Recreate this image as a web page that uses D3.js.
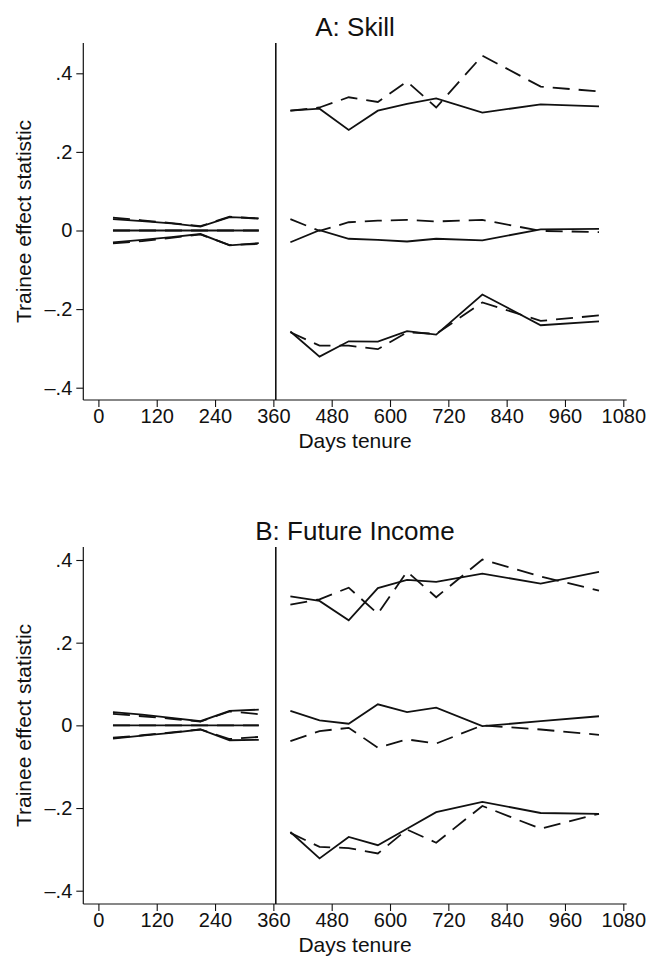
<!DOCTYPE html>
<html>
<head>
<meta charset="utf-8">
<script src="https://cdn.jsdelivr.net/npm/d3@7"></script>
<style>
  html, body { margin: 0; padding: 0; background: #fff; }
  svg { display: block; font-family: "Liberation Sans", Arial, Helvetica, sans-serif; }
</style>
</head>
<body>
<svg id="chart" width="649" height="962"></svg>
<script>
// Days of tenure at which each statistic is evaluated
const daysPre  = [30, 90, 150, 210, 270, 330];
const daysPost = [395, 455, 515, 575, 635, 695, 790, 910, 1030];
const xTicks = [0, 120, 240, 360, 480, 600, 720, 840, 960, 1080];
const yTicks = [-0.4, -0.2, 0, 0.2, 0.4];
const cutoffDay = 365;

// Panel A: Skill — first year (pre) and later (post), solid and dashed series
const skillPreUpper      = [0.029, 0.024, 0.018, 0.010, 0.034, 0.031];
const skillPreUpperAlt   = [0.033, 0.026, 0.019, 0.011, 0.035, 0.030];
const skillPreMid        = [0, 0, 0, 0, 0, 0];
const skillPreMidAlt     = [0, 0, 0, 0, 0, 0];
const skillPreLower      = [-0.030, -0.024, -0.017, -0.009, -0.038, -0.032];
const skillPreLowerAlt   = [-0.033, -0.027, -0.019, -0.010, -0.037, -0.034];

const skillPostUpper     = [0.305, 0.310, 0.256, 0.305, 0.322, 0.336, 0.300, 0.321, 0.316];
const skillPostUpperAlt  = [0.305, 0.313, 0.339, 0.327, 0.379, 0.313, 0.445, 0.366, 0.354];
const skillPostMid       = [-0.030, 0.001, -0.021, -0.024, -0.028, -0.021, -0.025, 0.003, 0.004];
const skillPostMidAlt    = [0.029, -0.001, 0.021, 0.025, 0.027, 0.023, 0.027, -0.001, -0.004];
const skillPostLower     = [-0.257, -0.321, -0.282, -0.283, -0.256, -0.265, -0.163, -0.241, -0.231];
const skillPostLowerAlt  = [-0.259, -0.293, -0.293, -0.302, -0.259, -0.263, -0.183, -0.230, -0.216];

// Panel B: Future Income
const incomePreUpper     = [0.032, 0.026, 0.018, 0.010, 0.035, 0.038];
const incomePreUpperAlt  = [0.028, 0.022, 0.016, 0.009, 0.034, 0.027];
const incomePreMid       = [0, 0, 0, 0, 0, 0];
const incomePreMidAlt    = [0, 0, 0, 0, 0, 0];
const incomePreLower     = [-0.032, -0.025, -0.018, -0.010, -0.036, -0.035];
const incomePreLowerAlt  = [-0.030, -0.024, -0.017, -0.010, -0.033, -0.028];

const incomePostUpper    = [0.312, 0.301, 0.254, 0.332, 0.352, 0.347, 0.367, 0.343, 0.371];
const incomePostUpperAlt = [0.292, 0.305, 0.333, 0.270, 0.372, 0.310, 0.401, 0.360, 0.326];
const incomePostMid      = [0.035, 0.012, 0.004, 0.051, 0.032, 0.043, -0.002, 0.010, 0.022];
const incomePostMidAlt   = [-0.038, -0.014, -0.006, -0.054, -0.034, -0.044, 0.000, -0.010, -0.023];
const incomePostLower    = [-0.258, -0.322, -0.270, -0.290, -0.250, -0.210, -0.185, -0.212, -0.214];
const incomePostLowerAlt = [-0.260, -0.294, -0.297, -0.310, -0.252, -0.284, -0.195, -0.250, -0.214];

const panels = [
  {
    title: "A: Skill", offsetY: 0, yRange: [387.7, 73.3],
    pre:  [[skillPreUpper, false], [skillPreUpperAlt, true], [skillPreMid, false], [skillPreMidAlt, true], [skillPreLower, false], [skillPreLowerAlt, true]],
    post: [[skillPostUpper, false], [skillPostUpperAlt, true], [skillPostMid, false], [skillPostMidAlt, true], [skillPostLower, false], [skillPostLowerAlt, true]]
  },
  {
    title: "B: Future Income", offsetY: 504, yRange: [386.7, 56],
    pre:  [[incomePreUpper, false], [incomePreUpperAlt, true], [incomePreMid, false], [incomePreMidAlt, true], [incomePreLower, false], [incomePreLowerAlt, true]],
    post: [[incomePostUpper, false], [incomePostUpperAlt, true], [incomePostMid, false], [incomePostMidAlt, true], [incomePostLower, false], [incomePostLowerAlt, true]]
  }
];

const svg = d3.select("#chart");
svg.append("rect").attr("width", 649).attr("height", 962).attr("fill", "#fff");

const plot = { left: 83.3, right: 626.7, top: 43, bottom: 400 };
const x = d3.scaleLinear().domain([0, 1080]).range([98.4, 623.3]);
const ink = "#111";
const fmtY = v => v === 0 ? "0" : (v < 0 ? "\u2013" : "") + String(Math.abs(v)).replace(/^0/, "");

panels.forEach(p => {
  const g = svg.append("g").attr("transform", `translate(0,${p.offsetY})`);
  const y = d3.scaleLinear().domain([-0.4, 0.4]).range(p.yRange);

  // Title
  g.append("text")
    .attr("x", (plot.left + plot.right) / 2).attr("y", 36)
    .attr("text-anchor", "middle").attr("font-size", 26).attr("fill", ink)
    .text(p.title);

  // Y axis
  const yAxis = d3.axisLeft(y).tickValues(yTicks).tickFormat(fmtY).tickSize(7).tickPadding(4);
  const gy = g.append("g").attr("transform", `translate(${plot.left},0)`).call(yAxis);
  gy.select(".domain").remove();
  gy.selectAll(".tick line").attr("stroke", ink).attr("stroke-width", 1.1);
  gy.selectAll(".tick text").attr("font-size", 20).attr("fill", ink).attr("font-family", null);

  // X axis
  const xAxis = d3.axisBottom(x).tickValues(xTicks).tickFormat(d3.format("d")).tickSize(7).tickPadding(2);
  const gx = g.append("g").attr("transform", `translate(0,${plot.bottom})`).call(xAxis);
  gx.select(".domain").remove();
  gx.selectAll(".tick line").attr("stroke", ink).attr("stroke-width", 1.1);
  gx.selectAll(".tick text").attr("font-size", 20).attr("fill", ink).attr("font-family", null);

  // Axis lines
  g.append("line").attr("x1", plot.left).attr("x2", plot.left)
    .attr("y1", plot.top).attr("y2", plot.bottom).attr("stroke", ink).attr("stroke-width", 1.2);
  g.append("line").attr("x1", plot.left).attr("x2", plot.right)
    .attr("y1", plot.bottom).attr("y2", plot.bottom).attr("stroke", ink).attr("stroke-width", 1.2);

  // Axis titles
  g.append("text")
    .attr("x", (plot.left + plot.right) / 2).attr("y", 448)
    .attr("text-anchor", "middle").attr("font-size", 21).attr("fill", ink)
    .text("Days tenure");
  g.append("text")
    .attr("transform", `translate(23,${(plot.top + plot.bottom) / 2}) rotate(-90)`)
    .attr("text-anchor", "middle").attr("dominant-baseline", "central")
    .attr("font-size", 21).attr("fill", ink)
    .text("Trainee effect statistic");

  // Cutoff line at one year of tenure
  g.append("line").attr("x1", x(cutoffDay)).attr("x2", x(cutoffDay))
    .attr("y1", plot.top).attr("y2", plot.bottom).attr("stroke", ink).attr("stroke-width", 1.6);

  // Series
  const drawSet = (days, set) => {
    set.forEach(([vals, dashed]) => {
      const line = d3.line().x((d, i) => x(days[i])).y(d => y(d));
      g.append("path")
        .attr("d", line(vals))
        .attr("fill", "none").attr("stroke", ink).attr("stroke-width", 1.8)
        .attr("stroke-linejoin", "miter")
        .attr("stroke-dasharray", dashed ? "17,9" : null);
    });
  };
  drawSet(daysPre, p.pre);
  drawSet(daysPost, p.post);
});
</script>
</body>
</html>
